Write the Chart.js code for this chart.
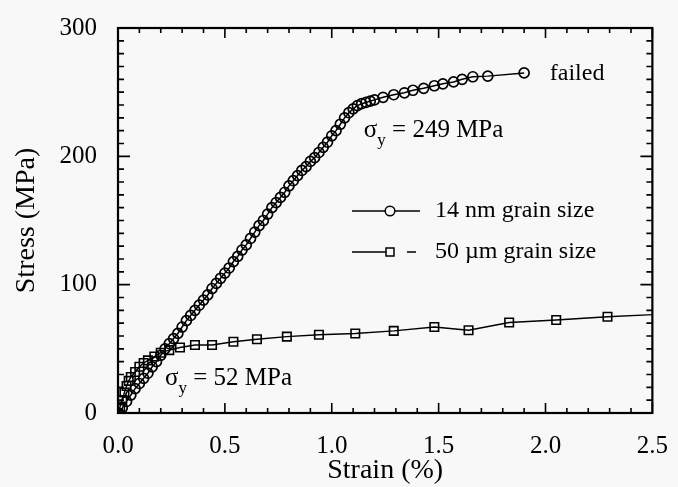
<!DOCTYPE html>
<html>
<head>
<meta charset="utf-8">
<script src="https://cdn.jsdelivr.net/npm/chart.js@4.4.0/dist/chart.umd.min.js"></script>
<style>
  html, body { margin: 0; padding: 0; background: #f8f8f8; }
  #vis { width: 678px; height: 487px; }
</style>
</head>
<body>
<div id="vis"><canvas id="myChart" width="678" height="487"></canvas></div>
<script>
// 14 nm grain size
const nanoStrain = [0.00, 0.02, 0.04, 0.06, 0.08, 0.10, 0.12, 0.14, 0.16, 0.18,
  0.20, 0.22, 0.24, 0.26, 0.28, 0.30, 0.32, 0.34, 0.36, 0.38,
  0.40, 0.42, 0.44, 0.46, 0.48, 0.50, 0.52, 0.54, 0.56, 0.58,
  0.60, 0.62, 0.64, 0.66, 0.68, 0.70, 0.72, 0.74, 0.76, 0.78,
  0.80, 0.82, 0.84, 0.86, 0.88, 0.90, 0.92, 0.94, 0.96, 0.98,
  1.00, 1.02, 1.04, 1.06, 1.08, 1.10, 1.12, 1.14, 1.16, 1.18,
  1.20, 1.24, 1.29, 1.34, 1.38, 1.43, 1.48, 1.52, 1.57, 1.61,
  1.66, 1.73, 1.90];
const nanoStress = [0, 4, 9, 14, 19, 23, 27, 31, 36, 40,
  45, 50, 54, 58, 62, 67, 72, 76, 80, 84,
  88, 92, 97, 101, 105, 109, 113, 118, 122, 127,
  131, 136, 141, 146, 150, 155, 160, 164, 168, 172,
  177, 181, 185, 189, 192, 196, 199, 203, 207, 211,
  216, 220, 225, 230, 234, 237, 239.5, 241, 242, 243,
  244, 246, 248, 249.5, 251.5, 253, 255, 256.5, 258, 260,
  262, 262.5, 265];

// 50 um grain size
const coarseStrain = [0.00, 0.01, 0.02, 0.03, 0.04, 0.05, 0.06, 0.08, 0.10, 0.12,
  0.14, 0.17, 0.20, 0.24, 0.29, 0.36, 0.44, 0.54, 0.65, 0.79,
  0.94, 1.11, 1.29, 1.48, 1.64, 1.83, 2.05, 2.29, 2.55];
const coarseStress = [0, 5, 10, 16, 21, 25, 28, 32, 36, 39,
  41, 44, 47, 49, 51, 53, 53, 55.5, 57.5, 59.5,
  61, 62, 64, 67, 64.5, 70.5, 72.5, 75, 77];

const xTickLabels = ['0.0', '0.5', '1.0', '1.5', '2.0', '2.5'];
const seriesNames = ['14 nm grain size', '50 \u00b5m grain size'];

const serif = "'Liberation Serif', 'Times New Roman', serif";

function toPoints(xs, ys) {
  return xs.map((x, i) => ({ x: x, y: ys[i] }));
}

function drawSigma(ctx, px, py, rest) {
  ctx.textAlign = 'left';
  ctx.textBaseline = 'middle';
  ctx.font = '25px ' + serif;
  ctx.fillText('\u03c3', px, py);
  let w = ctx.measureText('\u03c3').width;
  ctx.font = '17px ' + serif;
  ctx.fillText('y', px + w, py + 10);
  w += ctx.measureText('y').width;
  ctx.font = '25px ' + serif;
  ctx.fillText(rest, px + w, py);
}

const framePlugin = {
  id: 'frame',
  beforeDraw(chart) {
    const ctx = chart.ctx;
    ctx.save();
    ctx.fillStyle = '#f8f8f8';
    ctx.fillRect(0, 0, chart.width, chart.height);
    ctx.restore();
  },
  afterDraw(chart) {
    const ctx = chart.ctx;
    const a = chart.chartArea;
    const x = chart.scales.x;
    const y = chart.scales.y;
    ctx.save();
    ctx.strokeStyle = '#000';
    ctx.fillStyle = '#000';
    ctx.lineWidth = 2.2;
    ctx.strokeRect(a.left, a.top, a.right - a.left, a.bottom - a.top);

    // inward ticks on all four sides
    ctx.lineWidth = 1.6;
    ctx.beginPath();
    for (let i = 0; i <= 25; i++) {
      const px = x.getPixelForValue(i / 10);
      const len = i % 5 === 0 ? 10 : 5;
      ctx.moveTo(px, a.bottom); ctx.lineTo(px, a.bottom - len);
      ctx.moveTo(px, a.top); ctx.lineTo(px, a.top + len);
    }
    for (let i = 0; i <= 30; i++) {
      const py = y.getPixelForValue(i * 10);
      const len = i % 10 === 0 ? 12 : 6;
      ctx.moveTo(a.left, py); ctx.lineTo(a.left + len, py);
      ctx.moveTo(a.right, py); ctx.lineTo(a.right - len, py);
    }
    ctx.stroke();

    // notes
    ctx.font = '24px ' + serif;
    ctx.textAlign = 'left';
    ctx.textBaseline = 'middle';
    ctx.fillText('failed', x.getPixelForValue(2.02), y.getPixelForValue(264.5));
    drawSigma(ctx, x.getPixelForValue(1.15), y.getPixelForValue(220), ' = 249 MPa');
    drawSigma(ctx, x.getPixelForValue(0.22), y.getPixelForValue(27), ' = 52 MPa');

    // legend
    const lx = a.left + 234;
    const r1 = a.top + 183;
    const r2 = a.top + 224;
    ctx.lineWidth = 1.5;
    ctx.beginPath();
    ctx.moveTo(lx, r1); ctx.lineTo(lx + 68, r1);
    ctx.moveTo(lx, r2); ctx.lineTo(lx + 34, r2);
    ctx.moveTo(lx + 55, r2); ctx.lineTo(lx + 64, r2);
    ctx.stroke();
    ctx.fillStyle = '#f8f8f8';
    ctx.beginPath();
    ctx.arc(lx + 38, r1, 4.8, 0, Math.PI * 2);
    ctx.fill(); ctx.stroke();
    ctx.fillRect(lx + 34, r2 - 4, 8, 8);
    ctx.strokeRect(lx + 34, r2 - 4, 8, 8);
    ctx.fillStyle = '#000';
    ctx.font = '24px ' + serif;
    ctx.fillText(seriesNames[0], lx + 83, r1);
    ctx.fillText(seriesNames[1], lx + 83, r2);
    ctx.restore();
  }
};

const ctx = document.getElementById('myChart');

const chart = new Chart(ctx, {
  type: 'scatter',
  data: {
    datasets: [
      {
        label: seriesNames[0],
        data: toPoints(nanoStrain, nanoStress),
        showLine: true,
        borderColor: '#000',
        borderWidth: 1.5,
        pointStyle: 'circle',
        pointRadius: 5,
        pointBorderWidth: 1.7,
        pointBorderColor: '#000',
        pointBackgroundColor: 'rgba(0,0,0,0)',
      },
      {
        label: seriesNames[1],
        data: toPoints(coarseStrain, coarseStress),
        showLine: true,
        borderColor: '#000',
        borderWidth: 1.4,
        pointStyle: 'rect',
        pointRadius: 6,
        pointBorderWidth: 1.6,
        pointBorderColor: '#000',
        pointBackgroundColor: 'rgba(0,0,0,0)',
      },
    ],
  },
  options: {
    responsive: false,
    animation: false,
    layout: {
      padding: { left: 0, top: 24, right: 20, bottom: 0 },
    },
    plugins: {
      legend: { display: false },
      tooltip: { enabled: false },
      title: { display: false },
    },
    scales: {
      x: {
        type: 'linear',
        min: 0,
        max: 2.5,
        grid: { display: false },
        border: { display: false },
        afterFit: (scale) => { scale.height = 74; },
        ticks: {
          stepSize: 0.5,
          padding: 10,
          color: '#000',
          font: { family: serif, size: 25 },
          callback: (v) => xTickLabels[Math.round(v * 2)],
        },
        title: {
          display: true,
          text: 'Strain (%)',
          color: '#000',
          font: { family: serif, size: 28 },
          padding: { top: 0, bottom: 0 },
        },
      },
      y: {
        type: 'linear',
        min: 0,
        max: 300,
        grid: { display: false },
        border: { display: false },
        afterFit: (scale) => { scale.width = 118; },
        ticks: {
          stepSize: 100,
          padding: 13,
          color: '#000',
          font: { family: serif, size: 25 },
        },
        title: {
          display: true,
          text: 'Stress (MPa)',
          color: '#000',
          font: { family: serif, size: 28 },
          padding: { top: 10, bottom: 0 },
        },
      },
    },
  },
  plugins: [framePlugin],
});
</script>
</body>
</html>
